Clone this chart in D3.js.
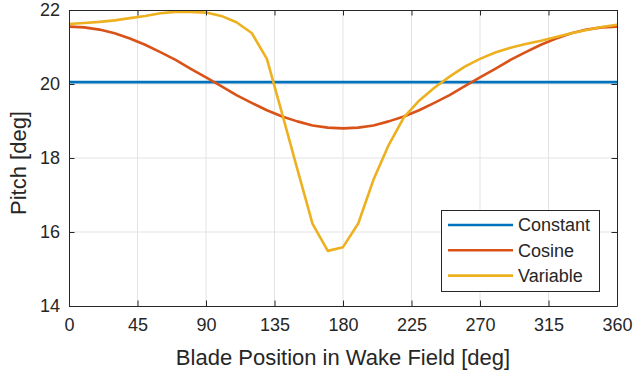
<!DOCTYPE html>
<html>
<head>
<meta charset="utf-8">
<script src="https://cdn.jsdelivr.net/npm/d3@7"></script>
<style>
  body { margin: 0; background: #fff; }
  text { font-family: "Liberation Sans", Arial, Helvetica, sans-serif; fill: #262626; }
</style>
</head>
<body>
<script>
// blade position [deg]
var positions = [0, 10, 20, 30, 40, 50, 60, 70, 80, 90, 100, 110, 120, 130, 140, 150, 160, 170, 180,
                 190, 200, 210, 220, 230, 240, 250, 260, 270, 280, 290, 300, 310, 320, 330, 340, 350, 360];
// pitch values [deg]
var constantPitch = [20.05, 20.05, 20.05, 20.05, 20.05, 20.05, 20.05, 20.05, 20.05, 20.05, 20.05, 20.05, 20.05,
                     20.05, 20.05, 20.05, 20.05, 20.05, 20.05, 20.05, 20.05, 20.05, 20.05, 20.05, 20.05, 20.05,
                     20.05, 20.05, 20.05, 20.05, 20.05, 20.05, 20.05, 20.05, 20.05, 20.05, 20.05];
var cosinePitch = [21.55, 21.53, 21.47, 21.37, 21.23, 21.06, 20.86, 20.65, 20.41, 20.18, 19.94, 19.70, 19.49,
                   19.29, 19.12, 18.99, 18.88, 18.82, 18.80, 18.82, 18.88, 18.99, 19.12, 19.29, 19.49, 19.70,
                   19.94, 20.18, 20.41, 20.65, 20.86, 21.06, 21.23, 21.37, 21.47, 21.53, 21.55];
var variablePitch = [21.62, 21.65, 21.68, 21.72, 21.78, 21.84, 21.91, 21.95, 21.95, 21.93, 21.84, 21.67, 21.38,
                     20.68, 19.20, 17.70, 16.22, 15.49, 15.59, 16.23, 17.41, 18.35, 19.10, 19.55, 19.90, 20.20,
                     20.47, 20.68, 20.85, 20.98, 21.08, 21.17, 21.27, 21.37, 21.46, 21.54, 21.60];
var seriesNames = ['Constant', 'Cosine', 'Variable'];
var xTicks = [0, 45, 90, 135, 180, 225, 270, 315, 360];
var yTicks = [14, 16, 18, 20, 22];

var colors = ['#0072BD', '#D95319', '#EDB120'];
var W = 633, H = 373;
var pLeft = 69, pRight = 617, pTop = 10, pBottom = 306;

var svg = d3.select('body').append('svg')
  .attr('width', W).attr('height', H);

var x = d3.scaleLinear().domain([0, 360]).range([pLeft, pRight]);
var y = d3.scaleLinear().domain([14, 22]).range([pBottom, pTop]);

// grid
svg.append('g').selectAll('line')
  .data(xTicks.slice(1, -1)).enter().append('line')
  .attr('x1', d => x(d)).attr('x2', d => x(d))
  .attr('y1', pTop).attr('y2', pBottom)
  .attr('stroke', '#e3e3e3').attr('stroke-width', 1);
svg.append('g').selectAll('line')
  .data(yTicks.slice(1, -1)).enter().append('line')
  .attr('y1', d => y(d)).attr('y2', d => y(d))
  .attr('x1', pLeft).attr('x2', pRight)
  .attr('stroke', '#e3e3e3').attr('stroke-width', 1);

// lines
var allSeries = [constantPitch, cosinePitch, variablePitch];
var line = d3.line()
  .x((d, i) => x(positions[i]))
  .y(d => y(d));

svg.append('clipPath').attr('id', 'clip')
  .append('rect').attr('x', pLeft).attr('y', pTop - 2)
  .attr('width', pRight - pLeft).attr('height', pBottom - pTop + 2);

svg.append('g').attr('clip-path', 'url(#clip)')
  .selectAll('path')
  .data(allSeries).enter().append('path')
  .attr('d', line)
  .attr('fill', 'none')
  .attr('stroke', (d, i) => colors[i])
  .attr('stroke-width', 2.6)
  .attr('stroke-linejoin', 'round');

// axes (inner ticks, box on)
var tickLen = 5.5;
var xBottom = svg.append('g').attr('transform', 'translate(0,' + pBottom + ')')
  .call(d3.axisBottom(x).tickValues(xTicks).tickSizeInner(-tickLen).tickSizeOuter(0).tickPadding(12));
var xTop = svg.append('g').attr('transform', 'translate(0,' + pTop + ')')
  .call(d3.axisTop(x).tickValues(xTicks).tickSizeInner(-tickLen).tickSizeOuter(0).tickFormat(''));
var yLeft = svg.append('g').attr('transform', 'translate(' + pLeft + ',0)')
  .call(d3.axisLeft(y).tickValues(yTicks).tickSizeInner(-tickLen).tickSizeOuter(0).tickPadding(9));
var yRight = svg.append('g').attr('transform', 'translate(' + pRight + ',0)')
  .call(d3.axisRight(y).tickValues(yTicks).tickSizeInner(-tickLen).tickSizeOuter(0).tickFormat(''));

[xBottom, xTop, yLeft, yRight].forEach(function (g) {
  g.select('.domain').attr('stroke', '#262626').attr('stroke-width', 1);
  g.selectAll('.tick line').attr('stroke', '#262626');
  g.selectAll('.tick text')
    .style('font-size', '18px')
    .style('font-family', '"Liberation Sans", Arial, sans-serif')
    .attr('fill', '#262626');
});
xBottom.selectAll('.tick text').attr('dy', '0.71em');

// axis labels
svg.append('text')
  .attr('x', (pLeft + pRight) / 2).attr('y', 365)
  .attr('text-anchor', 'middle')
  .style('font-size', '22px')
  .text('Blade Position in Wake Field [deg]');
svg.append('text')
  .attr('transform', 'translate(26,163) rotate(-90)')
  .attr('text-anchor', 'middle')
  .style('font-size', '22px')
  .text('Pitch [deg]');

// legend
var lg = svg.append('g');
lg.append('rect')
  .attr('x', 441.5).attr('y', 210.5)
  .attr('width', 158).attr('height', 81)
  .attr('fill', '#fff').attr('stroke', '#262626').attr('stroke-width', 1);
var rows = lg.selectAll('g').data(seriesNames).enter().append('g')
  .attr('transform', (d, i) => 'translate(0,' + (225 + i * 25.3) + ')');
rows.append('line')
  .attr('x1', 448).attr('x2', 513)
  .attr('stroke', (d, i) => colors[i]).attr('stroke-width', 2.6);
rows.append('text')
  .attr('x', 518).attr('y', 0).attr('dy', '0.35em')
  .style('font-size', '18px')
  .text(d => d);
</script>
</body>
</html>
